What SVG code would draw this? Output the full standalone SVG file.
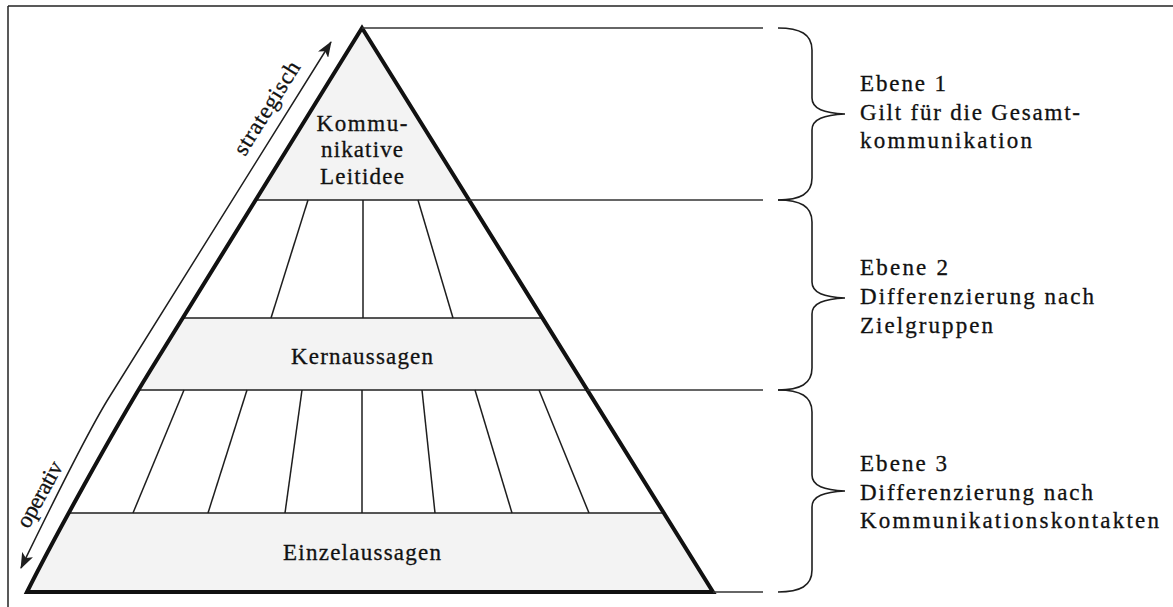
<svg xmlns="http://www.w3.org/2000/svg" width="1173" height="607" viewBox="0 0 1173 607">
<style>
  .t { font-family: "Liberation Serif", "Times New Roman", serif; font-size: 23px; fill: #111; stroke: #111; stroke-width: 0.3; }
  .c { text-anchor: middle; }
  .thin { stroke: #1e1e1e; stroke-width: 1.5; fill: none; }
  .ext { stroke: #333; stroke-width: 1.5; fill: none; }
  .band { fill: #f3f3f3; }
  .outline { stroke: #111; stroke-width: 4; fill: none; stroke-linejoin: miter; }
  .brace { stroke: #1e1e1e; stroke-width: 1.6; fill: none; }
  .arrow { stroke: #1e1e1e; stroke-width: 1.5; fill: none; }
</style>
<defs>
  <clipPath id="pyrClip">
    <path d="M 362 28 L 713 592 L 27 592 C 52 542, 113 431, 150 371 Z"/>
  </clipPath>
  <marker id="ah" viewBox="0 0 16 12" refX="15" refY="6" markerWidth="16" markerHeight="12" markerUnits="userSpaceOnUse" orient="auto-start-reverse">
    <path d="M 0 0 L 16 6 L 0 12 L 4 6 Z" fill="#1e1e1e"/>
  </marker>
</defs>
<rect x="0" y="0" width="1173" height="607" fill="#ffffff"/>
<g id="frame">
  <line x1="8" y1="6" x2="1173" y2="6" stroke="#222" stroke-width="1.5"/>
  <line x1="8" y1="6" x2="8" y2="607" stroke="#222" stroke-width="1.5"/>
</g>
<g id="pyramid">
  <g clip-path="url(#pyrClip)">
    <rect class="band" x="0" y="28" width="800" height="172"/>
    <rect class="band" x="0" y="318" width="800" height="72"/>
    <rect class="band" x="0" y="513" width="800" height="79"/>
    <line class="thin" x1="0" y1="200" x2="800" y2="200"/>
    <line class="thin" x1="0" y1="318" x2="800" y2="318"/>
    <line class="thin" x1="0" y1="390" x2="800" y2="390"/>
    <line class="thin" x1="0" y1="513" x2="800" y2="513"/>
  </g>
  <g id="level2-dividers">
    <line class="thin" x1="308" y1="200" x2="271" y2="318"/>
    <line class="thin" x1="363" y1="200" x2="363" y2="318"/>
    <line class="thin" x1="418" y1="200" x2="453" y2="318"/>
  </g>
  <g id="level3-dividers">
    <line class="thin" x1="184" y1="390" x2="133" y2="513"/>
    <line class="thin" x1="247" y1="390" x2="208" y2="513"/>
    <line class="thin" x1="302" y1="390" x2="285" y2="513"/>
    <line class="thin" x1="362" y1="390" x2="362" y2="513"/>
    <line class="thin" x1="422" y1="390" x2="435" y2="513"/>
    <line class="thin" x1="475" y1="390" x2="512" y2="513"/>
    <line class="thin" x1="539" y1="390" x2="589" y2="513"/>
  </g>
  <path class="outline" d="M 362 28 L 713 592 L 27 592 C 52 542, 113 431, 150 371 Z"/>
</g>
<g id="node-leitidee">
  <text class="t c" x="362" y="131" textLength="91">Kommu-</text>
  <text class="t c" x="362" y="157" textLength="82">nikative</text>
  <text class="t c" x="362" y="184" textLength="84">Leitidee</text>
</g>
<g id="node-kernaussagen">
  <text class="t c" x="362" y="364" textLength="142">Kernaussagen</text>
</g>
<g id="node-einzelaussagen">
  <text class="t c" x="362" y="560" textLength="158">Einzelaussagen</text>
</g>
<g id="level-lines">
  <line class="ext" x1="362" y1="28" x2="763" y2="28"/>
  <line class="ext" x1="469" y1="200" x2="763" y2="200"/>
  <line class="ext" x1="587" y1="390" x2="763" y2="390"/>
  <line class="ext" x1="713" y1="592" x2="763" y2="592"/>
</g>
<g id="connectors">
  <path class="arrow" d="M 21 568 C 38 533, 86 434, 110 396 L 331 42" marker-start="url(#ah)" marker-end="url(#ah)"/>
  <text class="t c" transform="translate(273,112) rotate(-58)" x="0" y="0" textLength="106">strategisch</text>
  <text class="t c" transform="translate(46,498) rotate(-61)" x="0" y="0" textLength="72">operativ</text>
</g>
<g id="braces">
  <path class="brace" d="M 778 28 C 800 28 812 34 812 50 L 812 98 C 812 109 824 113 845 114 C 824 115 812 119 812 130 L 812 178 C 812 194 800 200 778 200"/>
  <path class="brace" d="M 778 200 C 800 200 812 206 812 222 L 812 282 C 812 293 824 297 845 298 C 824 299 812 303 812 314 L 812 368 C 812 384 800 390 778 390"/>
  <path class="brace" d="M 778 390 C 800 390 812 396 812 412 L 812 475 C 812 486 824 490 845 491 C 824 492 812 496 812 507 L 812 570 C 812 586 800 592 778 592"/>
</g>
<g id="node-ebene1">
  <text class="t" x="860" y="91" textLength="86">Ebene 1</text>
  <text class="t" x="860" y="120" textLength="220">Gilt für die Gesamt-</text>
  <text class="t" x="860" y="148" textLength="172">kommunikation</text>
</g>
<g id="node-ebene2">
  <text class="t" x="860" y="275" textLength="88">Ebene 2</text>
  <text class="t" x="860" y="304" textLength="234">Differenzierung nach</text>
  <text class="t" x="860" y="333" textLength="133">Zielgruppen</text>
</g>
<g id="node-ebene3">
  <text class="t" x="860" y="471" textLength="87">Ebene 3</text>
  <text class="t" x="860" y="500" textLength="233">Differenzierung nach</text>
  <text class="t" x="860" y="528" textLength="299">Kommunikationskontakten</text>
</g>
</svg>
